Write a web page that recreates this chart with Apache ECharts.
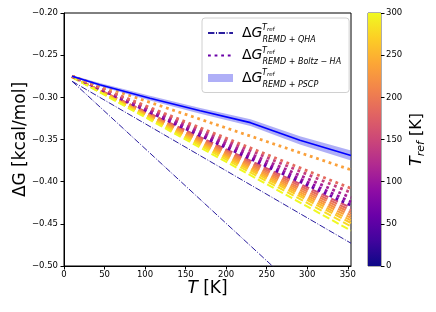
<!DOCTYPE html>
<html><head><meta charset="utf-8">
<script src="https://cdn.jsdelivr.net/npm/echarts@6/dist/echarts.min.js"></script>
<style>html,body{margin:0;padding:0;background:#fff}#c{width:436px;height:312px}</style>
</head><body><div id="c"></div>
<script>
// ---- data ----
const xTicks = [0, 50, 100, 150, 200, 250, 300, 350];
const yTicks = [-0.50, -0.45, -0.40, -0.35, -0.30, -0.25, -0.20];
const cbTicks = [0, 50, 100, 150, 200, 250, 300];
const lineT = [10, 354];                       // T where straight lines start / end
const qhaStart = [-0.281, -0.281];
const qhaEnd = [-0.586, -0.473];
const boltzStart = -0.275;
const boltzRef = [60, 90, 110, 140, 185, 235];     // T_ref of dotted curves
const boltzEnd = [-0.428, -0.424, -0.419, -0.413, -0.408, -0.386];
const dashStart = -0.276;
const dashRef = [160, 185, 205, 220, 235, 250, 265, 280, 300]; // T_ref of dashed curves
const dashEnd = [-0.431, -0.434, -0.437, -0.440, -0.443, -0.446, -0.449, -0.453, -0.458];
const pscpT = [10, 44, 106, 168, 230, 291, 354];
const pscpMean = [-0.275, -0.285, -0.301, -0.316, -0.330, -0.351, -0.369];
const pscpHigh = [-0.2738, -0.2830, -0.2982, -0.3125, -0.3260, -0.3460, -0.3630];
const pscpLow  = [-0.2762, -0.2870, -0.3038, -0.3195, -0.3340, -0.3560, -0.3750];

// ---- plasma colormap ----
const plasmaStops = ['#0d0887','#41049d','#6a00a8','#8f0da4','#b12a90','#cc4778','#e16462','#f2844b','#fca636','#fcce25','#f0f921'];
function hex(c){return [parseInt(c.slice(1,3),16),parseInt(c.slice(3,5),16),parseInt(c.slice(5,7),16)];}
function plasma(t){
  t = Math.max(0, Math.min(1, t));
  const p = t * (plasmaStops.length - 1), i = Math.min(Math.floor(p), plasmaStops.length - 2), f = p - i;
  const a = hex(plasmaStops[i]), b = hex(plasmaStops[i+1]);
  return 'rgb(' + a.map((v,k)=>Math.round(v + (b[k]-v)*f)).join(',') + ')';
}
const FONT = 'DejaVu Sans';
const QHA_COLOR = '#2a1d9e';
const BAND_COLOR = 'rgba(95,95,240,0.5)';
const DASHDOT = [6.4, 1.6, 1, 1.6];

const series = [];
dashRef.forEach((r, i) => series.push({
  type: 'line', name: 'dash' + i, data: [[lineT[0], dashStart], [lineT[1], dashEnd[i]]],
  symbol: 'none', silent: true, z: 2,
  lineStyle: {color: plasma(r / 300), width: 2, type: [7.4, 3.2], cap: 'butt'}
}));
boltzRef.forEach((r, i) => series.push({
  type: 'line', name: r === 60 ? 'Boltz' : 'boltz' + i, data: [[lineT[0], boltzStart], [lineT[1], boltzEnd[i]]],
  symbol: 'none', silent: true, z: 3,
  lineStyle: {color: plasma(r / 300), width: 2.8, type: [2.8, 3.8], cap: 'butt'}
}));
qhaEnd.forEach((e, i) => series.push({
  type: 'line', name: 'QHA', data: [[lineT[0], qhaStart[i]], [lineT[1], e]],
  symbol: 'none', silent: true, z: 4,
  lineStyle: {color: QHA_COLOR, width: 1, type: DASHDOT, cap: 'butt'}
}));
series.push({
  type: 'custom', name: 'PSCP', silent: true, z: 5, clip: true,
  data: pscpT.map((t, i) => [t, pscpLow[i], pscpHigh[i]]),
  encode: {x: 0, y: [1, 2]},
  itemStyle: {color: BAND_COLOR},
  renderItem: (params, api) => {
    if (params.dataIndex !== 0) return null;
    const up = pscpT.map((t, i) => api.coord([t, pscpHigh[i]]));
    const lo = pscpT.map((t, i) => api.coord([t, pscpLow[i]])).reverse();
    return {type: 'polygon', shape: {points: up.concat(lo)}, style: {fill: BAND_COLOR}};
  }
});
series.push({
  type: 'line', name: 'pscpMean', data: pscpT.map((t, i) => [t, pscpMean[i]]),
  symbol: 'none', silent: true, z: 6, lineStyle: {color: '#0000ff', width: 1.6}
});
series.push({
  type: 'bar', name: 'colorbar', xAxisIndex: 1, yAxisIndex: 1, data: [cbTicks[cbTicks.length - 1]],
  barWidth: '100%', silent: true,
  itemStyle: {color: {type: 'linear', x: 0, y: 1, x2: 0, y2: 0,
    colorStops: plasmaStops.map((c, i) => ({offset: i / (plasmaStops.length - 1), color: c}))}}
});

const subs = {QHA: 'REMD + QHA', Boltz: 'REMD + Boltz − HA', PSCP: 'REMD + PSCP'};
const supY = [28, 50.5, 73];
const tickLabel = {fontSize: 8.5, fontFamily: FONT, color: '#000'};
const hideSym = {opacity: 0, borderWidth: 0};

const chart = echarts.init(document.getElementById('c'), null, {renderer: 'canvas'});
chart.setOption({
  animation: false,
  backgroundColor: '#fff',
  grid: [
    {left: 64, top: 13, width: 287, height: 253, show: true, borderColor: '#000', borderWidth: 1,
     containLabel: false, outerBoundsMode: 'none'},
    {left: 368, top: 13, width: 13, height: 253, show: true, borderColor: '#333', borderWidth: 0.8,
     containLabel: false, outerBoundsMode: 'none'}
  ],
  xAxis: [
    {type: 'value', gridIndex: 0, min: 0, max: 354, interval: 50,
     name: '{i|T} [K]', nameLocation: 'middle', nameGap: 14, nameMoveOverlap: false,
     nameTextStyle: {fontSize: 17, fontFamily: FONT, color: '#000', rich: {i: {fontSize: 17, fontFamily: FONT, fontStyle: 'italic', color: '#000'}}},
     axisLine: {show: true, lineStyle: {color: '#000', width: 1}},
     axisTick: {show: true, inside: false, length: 3.5, lineStyle: {color: '#000'}, customValues: xTicks},
     axisLabel: {...tickLabel, margin: 4, customValues: xTicks, formatter: v => String(v)},
     splitLine: {show: false}},
    {type: 'category', gridIndex: 1, data: ['cb'], show: false, boundaryGap: true}
  ],
  yAxis: [
    {type: 'value', gridIndex: 0, min: -0.5, max: -0.2, interval: 0.05,
     name: 'ΔG [kcal/mol]', nameLocation: 'middle', nameGap: 35, nameRotate: 90, nameMoveOverlap: false,
     nameTextStyle: {fontSize: 17, fontFamily: FONT, color: '#000'},
     axisLine: {show: true, lineStyle: {color: '#000', width: 1}},
     axisTick: {show: true, inside: false, length: 3.5, lineStyle: {color: '#000'}, customValues: yTicks},
     axisLabel: {...tickLabel, margin: 6, customValues: yTicks, formatter: v => v.toFixed(2).replace('-', '\u2212')},
     splitLine: {show: false}},
    {type: 'value', gridIndex: 1, position: 'right', min: 0, max: 300, interval: 50,
     name: '{i|T}{s|ref} [K]', nameLocation: 'middle', nameGap: 26, nameRotate: 90, nameMoveOverlap: false,
     nameTextStyle: {fontSize: 16, fontFamily: FONT, color: '#000', lineHeight: 20,
       rich: {i: {fontSize: 16, fontFamily: FONT, fontStyle: 'italic', color: '#000', lineHeight: 20},
              s: {fontSize: 11, fontFamily: FONT, fontStyle: 'italic', color: '#000', lineHeight: 12, verticalAlign: 'bottom'}}},
     axisLine: {show: false},
     axisTick: {show: true, inside: false, length: 3.5, lineStyle: {color: '#000'}, customValues: cbTicks},
     axisLabel: {...tickLabel, margin: 5, customValues: cbTicks},
     splitLine: {show: false}}
  ],
  legend: {
    left: 202, top: 18, orient: 'vertical', selectedMode: false,
    padding: [8, 8, 4, 5], itemGap: 5, itemWidth: 25, itemHeight: 8,
    backgroundColor: 'rgba(255,255,255,0.85)', borderColor: '#d0d0d0', borderWidth: 1, borderRadius: 3,
    data: [
      {name: 'QHA', itemStyle: hideSym},
      {name: 'Boltz', itemStyle: hideSym},
      {name: 'PSCP', icon: 'rect', itemStyle: {color: BAND_COLOR, borderWidth: 0}}
    ],
    formatter: n => '{d|Δ}{g|G}{s|' + subs[n] + '}',
    textStyle: {rich: {
      d: {fontSize: 14, fontFamily: FONT, color: '#000', lineHeight: 21, padding: [0, 0, 0, 4]},
      g: {fontSize: 14, fontFamily: FONT, fontStyle: 'italic', color: '#000', lineHeight: 21},
      s: {fontSize: 8, fontFamily: FONT, fontStyle: 'italic', color: '#000', lineHeight: 14, verticalAlign: 'bottom'}
    }}
  },
  graphic: supY.map(y => ({
    type: 'text', x: 262, y: y, z: 100,
    style: {text: '{t|T}{r|ref}', verticalAlign: 'middle', fill: '#000',
      rich: {t: {fontSize: 8, fontFamily: FONT, fontStyle: 'italic', lineHeight: 10},
             r: {fontSize: 5.5, fontFamily: FONT, fontStyle: 'italic', lineHeight: 6, verticalAlign: 'bottom'}}}
  })),
  series: series
});
</script>
</body></html>
